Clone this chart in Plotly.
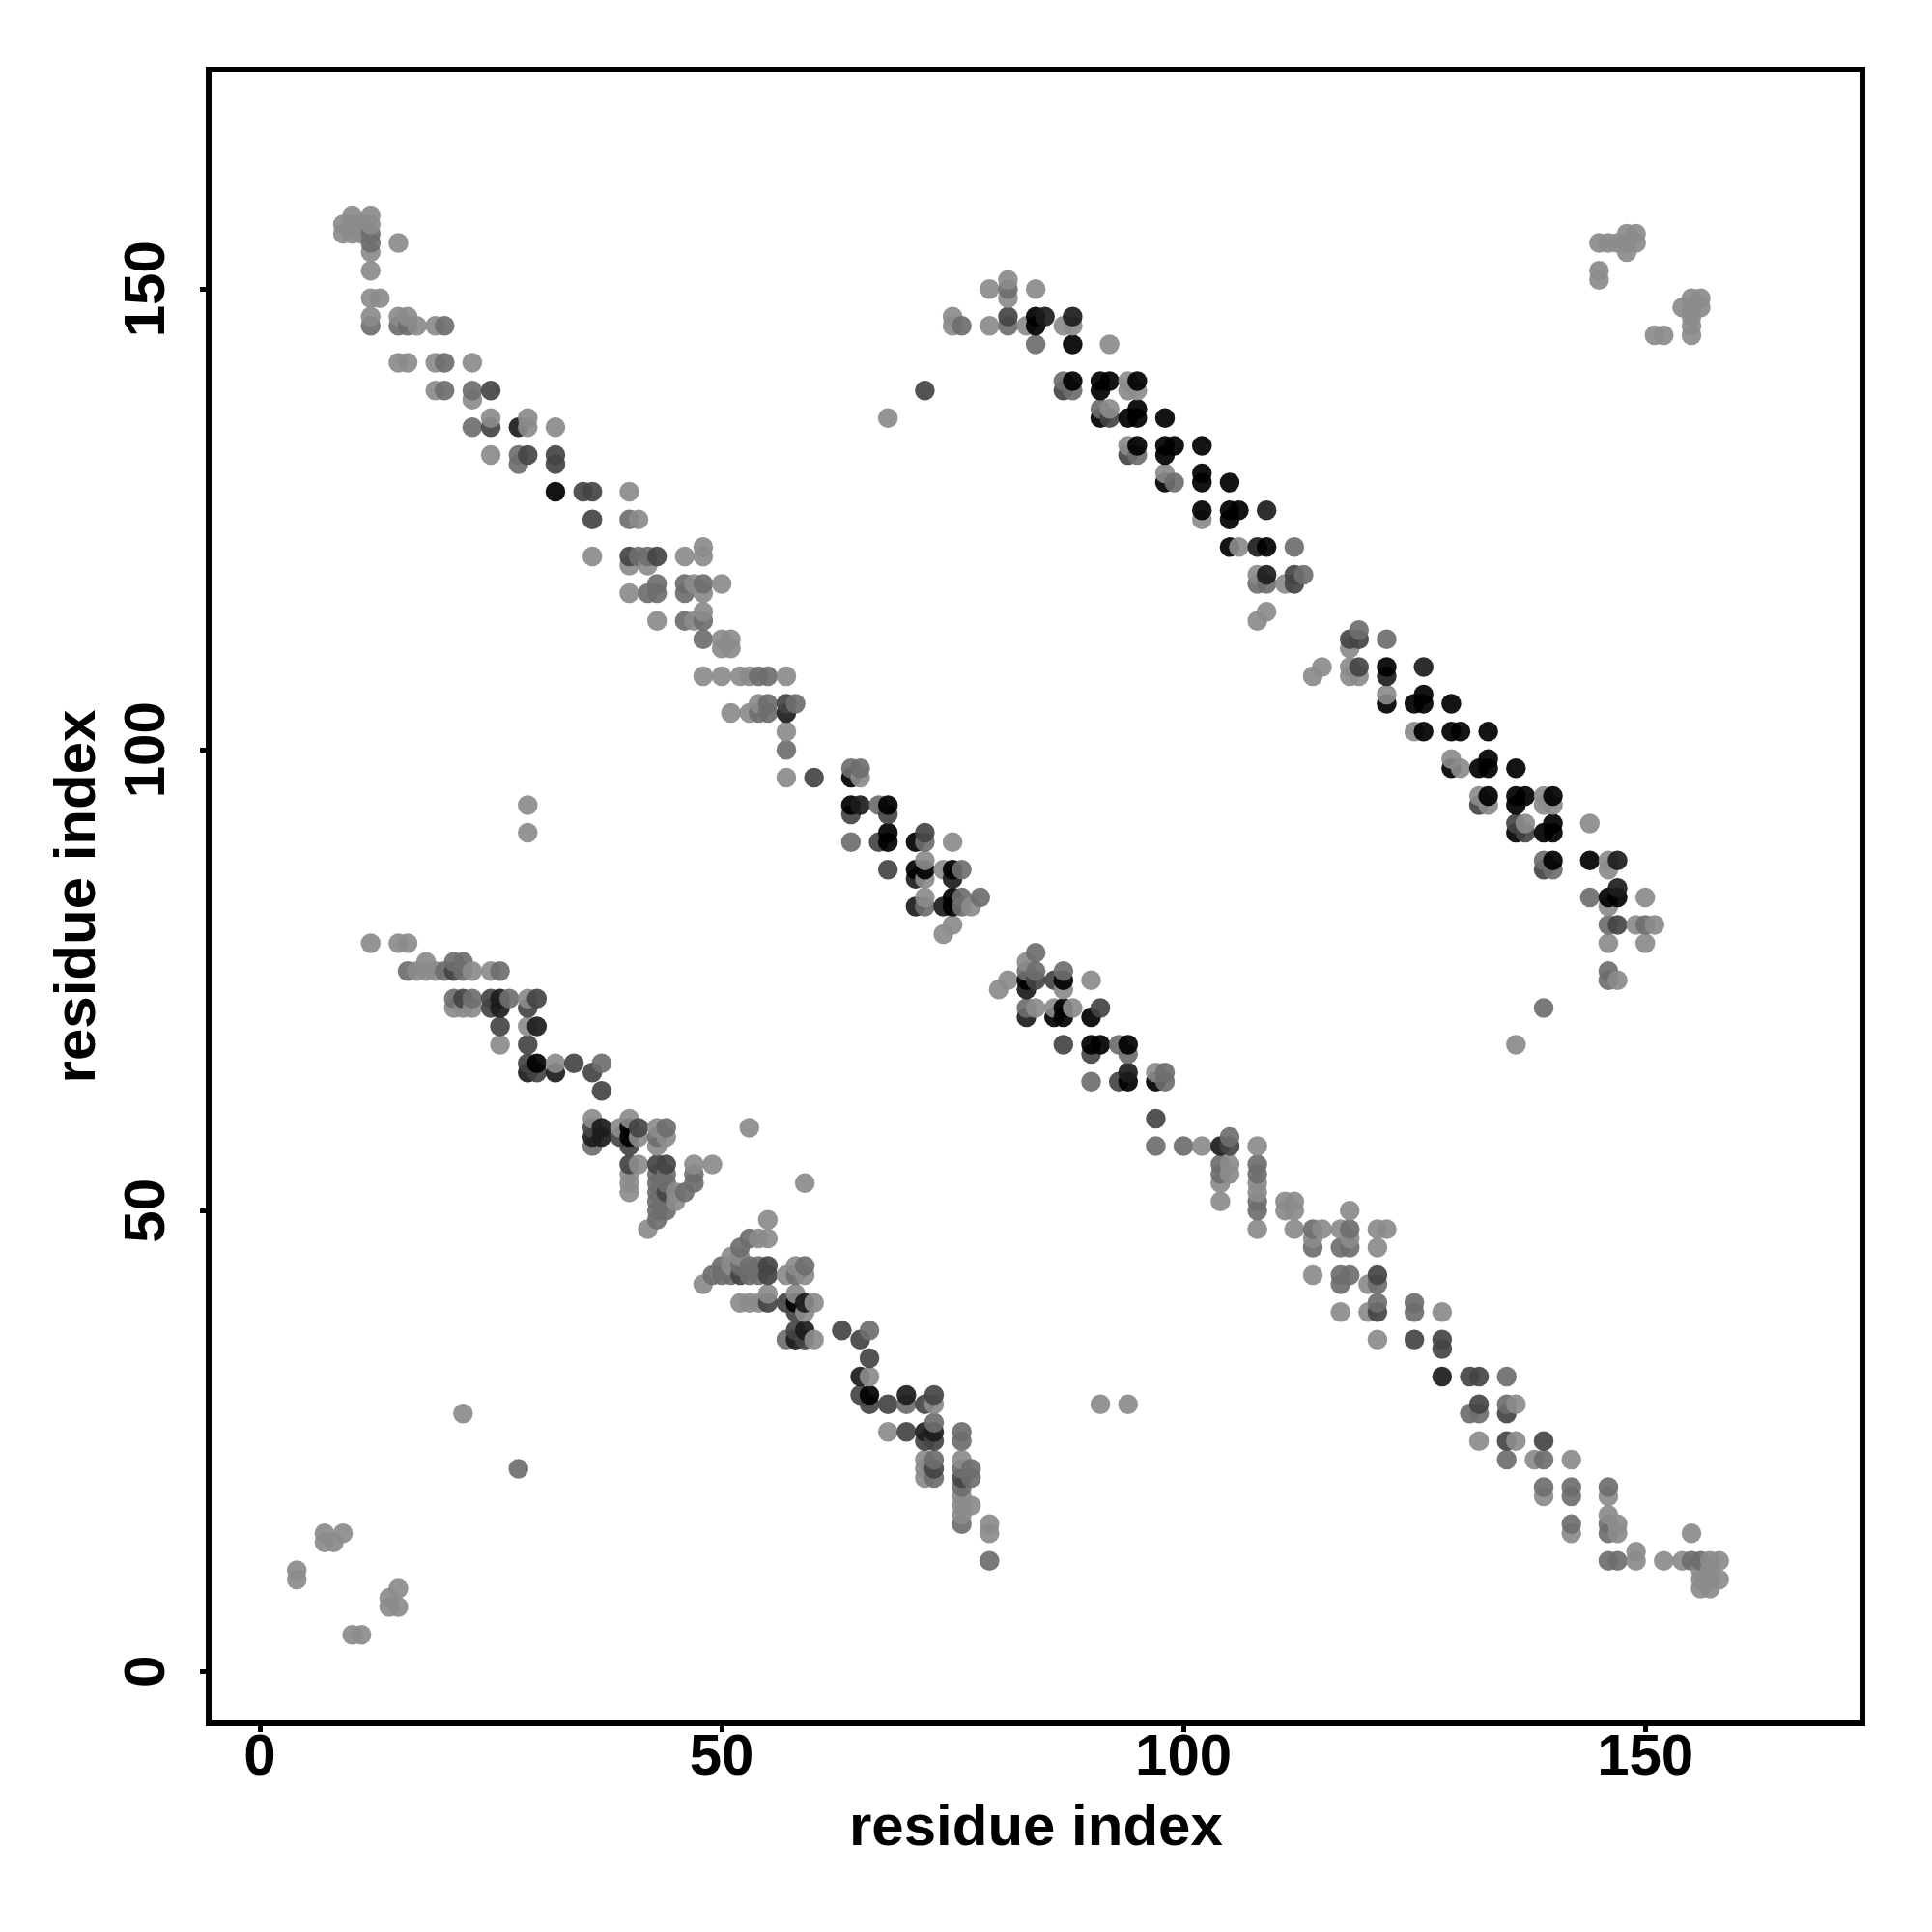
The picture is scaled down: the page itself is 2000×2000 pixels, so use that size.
import plotly.graph_objects as go

# residue contacts (x, y), grouped by grey level of the dot
light = [(9,157),(9,156),(10,158),(10,157),(10,156),(11,157),(11,156),(12,158),(12,157),(12,154),(15,155),(12,152),(12,149),(13,149),
(12,147),(15,147),(16,147),(17,146),(19,146),(15,142),(16,142),(19,142),(23,142),(19,139),(23,138),(25,136),(29,136),(32,135),(25,132),(29,135),
(40,128),(41,125),(36,121),(40,120),(42,120),(46,121),(48,122),(48,121),(40,117),(47,118),(48,117),(50,118),(43,114),(47,114),(48,115),
(50,111),(50,112),(51,111),(51,112),
(48,108),(57,108),(52,108),(53,108),(50,108),(51,104),(53,104),(54,105),(57,102),(57,97),(65,97),(75,90),(72,88),(72,86),(74,87),(72,84),(77,83),(75,81),(74,80),
(83,77),(81,75),(80,74),(87,74),(90,75),(84,72),(86,72),(88,72),(97,65),
(102,57),(108,57),(104,53),(104,51),(105,55),(105,54),(108,53),(108,52),(108,48),(111,51),(112,51),(111,50),(112,50),(112,48),(115,48),(114,47),
(118,50),(117,48),(118,47),(121,48),(122,48),(121,46),(114,43),(120,42),(117,39),(120,39),(128,39),(121,36),
(132,25),(136,29),(136,25),(138,23),(142,23),(146,19),(139,19),(142,15),(146,17),(147,16),(147,15),(155,15),(149,13),(149,12),(152,12),(154,12),(157,12),(158,12),
(156,11),(157,11),(156,10),(157,10),(158,10),(156,9),(157,9),
(118,111),(114,108),(115,109),(118,109),(118,108),(119,108),(122,106),(125,102),(129,99),(130,98),(132,95),(133,94),(139,95),(139,94),(140,94),(137,92),(144,92),
(146,88),(146,87),(150,84),(146,83),(149,81),(151,81),(146,79),(150,79),(147,75),(136,68),
(79,150),(81,151),(81,149),(84,150),(79,146),(83,146),(87,146),(88,146),(75,147),(75,146),(92,144),(94,140),(94,139),(95,139),(92,137),(94,133),(98,130),(102,125),(106,122),(108,119),(111,118),(109,115),(108,114),
(145,155),(146,155),(147,155),(148,156),(149,156),(148,155),(149,155),(148,154),(145,152),(145,151),(151,145),(152,145),(155,145),(155,146),(155,147),(155,149),(156,149),(154,148),(155,148),(156,148),
(68,136),(29,94),(29,91),(22,28),(91,29),(94,29),(53,59),(59,53),(4,11),(4,10),(7,15),(7,14),(8,14),(9,15),(10,4),(11,4),(14,8),(14,7),(15,9),(15,7),
(12,79),(15,79),(16,79),(17,76),(18,76),(18,77),(19,76),(23,76),(25,76),(21,72),(22,72),(23,72),(29,73),(29,70),(26,68),(32,66),(36,60),
(39,59),(40,60),(41,58),(43,59),(44,58),(43,57),(41,55),(40,54),(40,53),(40,52),(42,48),(45,52),(45,51),(47,55),(49,55),(55,49),(54,47),(55,47),(51,45),(52,45),(51,44),(48,42),
(57,43),(58,44),(59,43),(52,40),(53,40),(54,40),(55,41),(58,41),(60,40),(59,39),(60,36),(66,32),(73,29),(68,26),(72,23),(72,22),(72,21),(76,23),(76,19),(76,18),(77,18),(76,17),(79,16),(79,15)]

mid = [(12,156),(12,155),(12,146),(15,146),(16,146),(20,146),(20,142),(20,139),(23,135),(28,132),(28,131),(40,125),(41,121),(42,121),
(23,139),(42,117),(43,118),(43,117),(46,118),(46,117),(48,118),(46,114),(48,114),(48,112),
(54,108),(55,108),(58,105),(55,105),(54,104),(55,104),(57,100),(64,98),(65,98),(67,94),(64,90),(72,90),(76,87),(72,83),(76,84),(76,83),(78,84),
(84,78),(83,76),(84,76),(87,76),(83,72),(93,68),(94,67),(98,65),(98,64),(90,64),
(97,57),(100,57),(105,58),(104,55),(104,54),(108,55),(108,54),(108,51),(108,50),(114,48),(114,46),(118,48),(117,46),(118,46),
(117,43),(118,43),(117,42),(121,42),(121,40),(125,40),(125,39),(131,28),(132,28),(135,32),(135,29),(135,23),(139,23),(139,20),(142,20),(142,19),(146,20),(142,16),(146,16),(146,15),(146,12),(147,12),(155,12),(156,12),
(119,113),(122,112),(139,88),(140,87),(144,84),(146,81),(150,81),(146,76),(146,75),(139,72),(81,150),(81,146),(76,146),(84,144),(87,140),(88,139),(91,137),(95,132),(99,129),(108,118),(109,118),(113,119),(112,122),
(28,22),(16,76),(20,76),(21,77),(22,77),(22,76),(26,76),(21,73),(23,73),(27,73),(37,66),(36,57),(44,59),(43,58),(43,54),(44,54),(43,53),(43,52),(43,51),(43,50),(43,49),(44,53),(44,51),(44,50),(46,52),(47,54),(47,53),
(53,47),(52,46),(50,44),(52,44),(53,44),(54,44),(49,43),(50,43),(51,43),(53,43),(54,43),(58,43),(59,44),(57,36),(66,37),(70,29),(73,27),(73,23),(73,21),(76,26),(76,25),(76,22),(77,22),(77,21),(76,20),(76,16),(79,12)]

dark = [(25,139),(25,135),(29,132),(32,132),(32,131),(35,128),(36,128),(36,125),(40,121),(43,121),(64,93),(68,93),(57,105),(60,97),(67,90),(72,91),(68,87),
(84,75),(86,75),(93,64),(87,68),(90,67),(91,72),(97,60),(105,57),(121,43),(121,39),(125,36),(128,36),(128,35),(131,32),(132,32),(132,29),(135,25),(139,25),(135,28),
(118,112),(119,112),(119,109),(132,94),(136,92),(137,91),(139,87),(147,81),(81,147),(87,139),(92,136),(94,132),(112,119),(112,118),(72,139),
(21,76),(25,73),(25,72),(22,73),(29,72),(30,73),(26,70),(29,68),(29,66),(30,65),(34,66),(36,65),(37,63),(36,59),(41,59),(39,58),(40,57),(40,55),(43,55),(44,55),(44,52),
(52,43),(55,44),(55,43),(55,40),(57,40),(58,39),(58,37),(59,36),(63,37),(65,36),(66,34),(65,30),(66,29),(68,29),(72,29),(73,30),(70,26),(72,25),(73,25),(73,22),(76,21)]

near_black = [(28,135),(57,104),(65,94),(71,86),(71,83),(75,86),(74,83),(83,71),(83,74),(104,57),(94,65),(128,32),
(122,108),(126,109),(147,88),(147,85),(85,147),(88,147),(109,126),(108,122),(109,119),
(26,73),(26,72),(30,70),(29,65),(32,65),(37,59),(36,58),(37,58),(59,40),(59,37),(58,36),(65,32),(70,30),(72,26),(73,26)]

black = [(32,128),(64,97),(64,94),(68,94),(68,91),(68,90),(71,90),(71,87),(72,87),(75,87),(75,84),(75,83),(83,75),(87,75),(86,71),(87,72),(87,71),(90,71),(90,68),(91,68),(94,68),(94,64),(97,64),
(122,109),(122,105),(125,105),(126,106),(126,105),(129,105),(126,102),(129,102),(130,102),(133,102),(129,98),(132,98),(133,99),(133,98),(136,98),(133,95),(136,95),(137,95),(136,94),(140,95),(136,91),(140,92),(139,91),(140,91),(140,88),(144,88),(146,84),(147,84),
(84,147),(84,146),(88,144),(88,140),(91,140),(92,140),(91,139),(95,140),(91,136),(95,137),(94,136),(95,136),(98,136),(95,133),(98,133),(99,133),(98,132),(102,133),(98,129),(102,130),(102,129),(105,129),(102,126),(105,126),(106,126),(105,125),(105,122),(109,122),
(30,66),(40,59),(40,58),(58,40),(66,30)]

groups = [(light, "#8b8b8b"), (mid, "#6e6e6e"), (dark, "#444444"), (near_black, "#1c1c1c"), (black, "#000000")]
x_tick_values = [0, 50, 100, 150]
y_tick_values = [0, 50, 100, 150]
axis_label = "residue index"

rows = sorted(((p[0], p[1], c) for pts, c in groups for p in pts), key=lambda r: (r[0], r[1]))

fig = go.Figure(go.Scatter(
    x=[r[0] for r in rows], y=[r[1] for r in rows], mode="markers",
    marker=dict(size=20.5, color=[r[2] for r in rows], opacity=0.92, line=dict(width=0)),
    cliponaxis=False, hoverinfo="skip"))

font = dict(family="Liberation Sans", size=60, color="black", weight="bold")
axis = dict(showgrid=False, zeroline=False, mirror=True, showline=True, linecolor="black", linewidth=6,
            ticks="outside", ticklen=6, tickwidth=5, tickcolor="black", tickfont=font)
W = 2000
L, R, T, B = 211, 1916.7, 66.7, 1772.7
fig.update_layout(
    width=W, height=W, paper_bgcolor="white", plot_bgcolor="white", showlegend=False,
    margin=dict(l=L, r=W - R, t=T, b=W - B, pad=0, autoexpand=False),
    xaxis=dict(axis, range=[-5.23, 173.2], tickvals=x_tick_values, tickangle=0, ticklabelstandoff=-28),
    yaxis=dict(axis, range=[-5.31, 173.5], tickvals=y_tick_values, tickangle=-90, ticklabelstandoff=13, ticklabelshift=9),
    annotations=[
        dict(text=axis_label, xref="paper", yref="paper", x=0.5, y=-0.0636, showarrow=False,
             font=font, xanchor="center", yanchor="middle"),
        dict(text=axis_label, xref="paper", yref="paper", x=-0.083, y=0.5, showarrow=False, textangle=-90,
             font=font, xanchor="center", yanchor="middle"),
    ])
fig.write_html("out.html")
